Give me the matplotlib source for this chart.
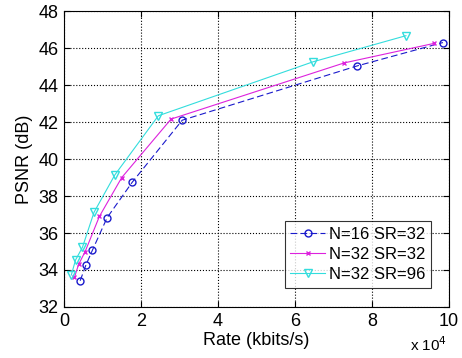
import matplotlib
matplotlib.use('Agg')
import matplotlib.pyplot as plt

plt.rcParams['font.family'] = ['Liberation Sans', 'DejaVu Sans']

# rate in units of 1e4 kbits/s, PSNR in dB
rate_n16_sr32 = [0.42, 0.57, 0.74, 1.12, 1.77, 3.07, 7.62, 9.84]
psnr_n16_sr32 = [33.42, 34.27, 35.08, 36.83, 38.74, 42.10, 45.04, 46.30]

rate_n32_sr32 = [0.27, 0.38, 0.55, 0.92, 1.50, 2.78, 7.28, 9.60]
psnr_n32_sr32 = [33.60, 34.30, 35.00, 36.90, 39.00, 42.16, 45.20, 46.25]

rate_n32_sr96 = [0.19, 0.30, 0.48, 0.78, 1.32, 2.45, 6.47, 8.88]
psnr_n32_sr96 = [33.73, 34.54, 35.23, 37.12, 39.14, 42.34, 45.26, 46.67]

labels = ['N=16 SR=32', 'N=32 SR=32', 'N=32 SR=96']
x_ticks = [0, 2, 4, 6, 8, 10]
y_ticks = [32, 34, 36, 38, 40, 42, 44, 46, 48]

fig = plt.figure(figsize=(4.62, 3.58), dpi=100)
ax = fig.add_axes([0.1385, 0.1425, 0.8335, 0.8265])

ax.plot(rate_n16_sr32, psnr_n16_sr32, color='#1a1acc', linestyle='--', dashes=(6, 3),
        marker='o', markersize=5, markerfacecolor='none', linewidth=0.8, label=labels[0])
ax.plot(rate_n32_sr32, psnr_n32_sr32, color='#dd22dd', linestyle='-',
        marker='x', markersize=3.5, linewidth=0.8, label=labels[1])
ax.plot(rate_n32_sr96, psnr_n32_sr96, color='#33dddd', linestyle='-',
        marker='v', markersize=6, markerfacecolor='none', linewidth=0.8, label=labels[2])

ax.set_xlim(0, 10)
ax.set_ylim(32, 48)
ax.set_xticks(x_ticks)
ax.set_yticks(y_ticks)
ax.tick_params(direction='in', top=True, right=True, labelsize=13, length=4, pad=4)
ax.grid(True, color='black', linestyle=':', linewidth=0.8)
for s in ax.spines.values():
    s.set_linewidth(0.8)

ax.set_xlabel('Rate (kbits/s)', fontsize=13, labelpad=2)
ax.set_ylabel('PSNR (dB)', fontsize=13, labelpad=4)
fig.text(0.888, 0.01, r'x 10$^4$', fontsize=11, ha='left', va='bottom')

leg = ax.legend(loc='lower right', bbox_to_anchor=(0.953, 0.065), fontsize=12,
                frameon=True, fancybox=False, edgecolor='black', handlelength=2.1,
                handletextpad=0.2, borderpad=0.35, labelspacing=0.3, borderaxespad=0)
leg.get_frame().set_linewidth(0.8)

fig.savefig('out.png', dpi=100, facecolor='white')
